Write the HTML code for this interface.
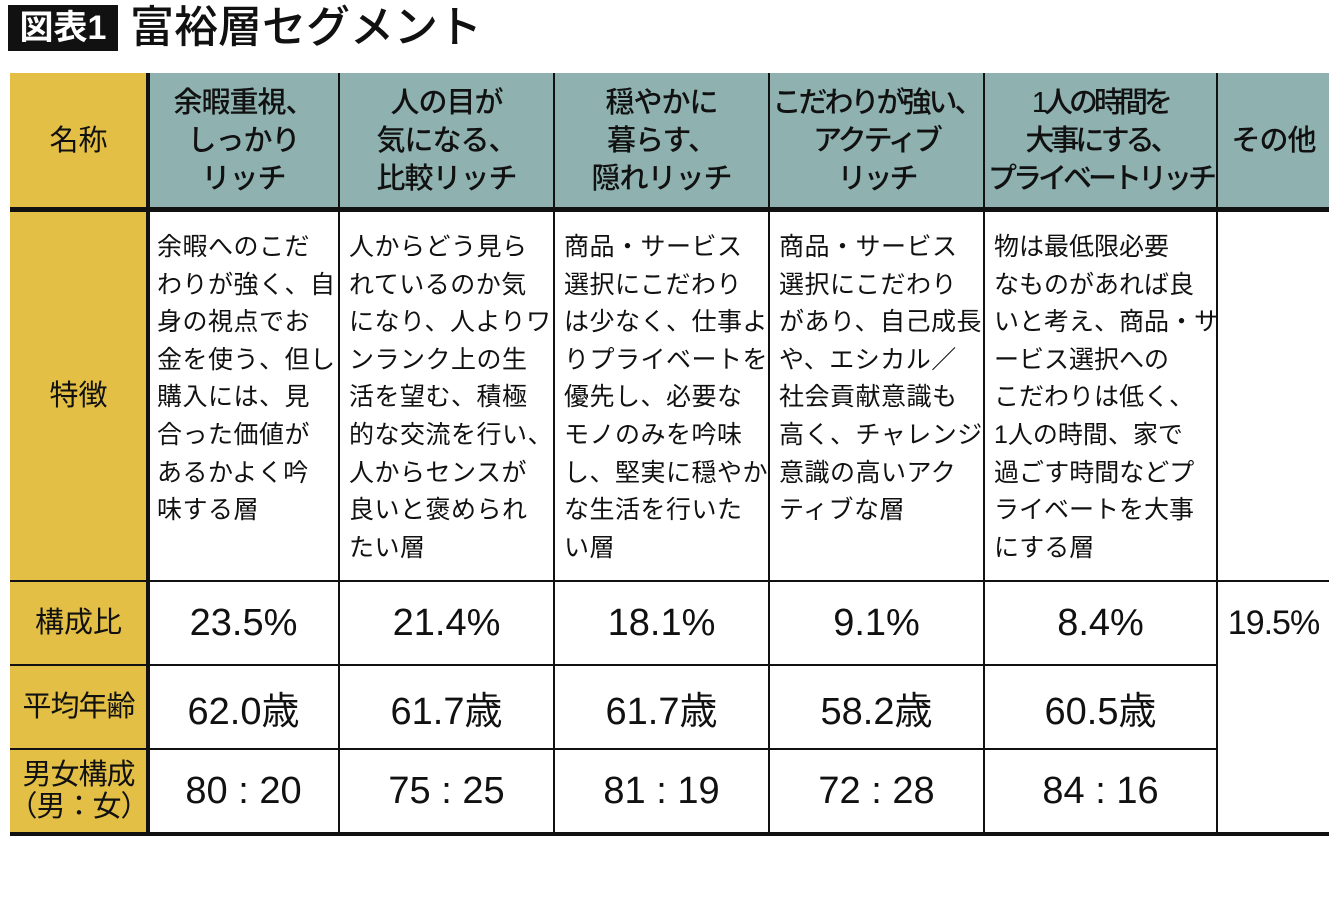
<!DOCTYPE html>
<html><head><meta charset="utf-8"><style>
body{margin:0;width:1340px;height:904px;background:#fff;position:relative;overflow:hidden;font-family:"Liberation Sans","Noto Sans CJK JP",sans-serif;color:#111}
.a{position:absolute}
.hd{background:#8fb2b0}
.yl{background:#e3bf45}
.hl{position:absolute;background:#111}
.cell{position:absolute;display:flex;align-items:center;justify-content:center;text-align:center;white-space:nowrap}
.h{font-size:29px;line-height:38px;font-weight:500;letter-spacing:-1px}
.v{font-size:38px}
.lab{font-size:29px;line-height:32px}
.body{position:absolute;font-size:25px;line-height:37.6px;letter-spacing:0.5px;white-space:pre}
</style></head><body>
<div class="a" style="left:8px;top:5px;width:110px;height:46px;background:#111;color:#fff;font-size:34px;font-weight:bold;line-height:46px;text-align:center">図表1</div>
<div class="a" style="left:130px;top:0px;font-size:44px;line-height:56px;font-weight:500">富裕層セグメント</div>

<div class="a yl" style="left:10px;top:73px;width:137px;height:761px"></div>
<div class="a hd" style="left:149px;top:73px;width:1180px;height:135px"></div>

<div class="hl" style="left:146px;top:73px;width:4px;height:763px"></div>
<div class="hl" style="left:10px;top:207px;width:1319px;height:5px"></div>
<div class="hl" style="left:10px;top:832px;width:1319px;height:4px"></div>
<div class="hl" style="left:10px;top:580px;width:1319px;height:2px"></div>
<div class="hl" style="left:10px;top:664px;width:1208px;height:2px"></div>
<div class="hl" style="left:10px;top:748px;width:1208px;height:2px"></div>
<div class="hl" style="left:338px;top:73px;width:2px;height:761px"></div>
<div class="hl" style="left:553px;top:73px;width:2px;height:761px"></div>
<div class="hl" style="left:768px;top:73px;width:2px;height:761px"></div>
<div class="hl" style="left:983px;top:73px;width:2px;height:761px"></div>
<div class="hl" style="left:1216px;top:73px;width:2px;height:761px"></div>

<div class="cell lab" style="left:10px;top:73px;width:137px;height:135px">名称</div>
<div class="cell lab" style="left:10px;top:212px;width:137px;height:368px">特徴</div>
<div class="cell lab" style="left:10px;top:582px;width:137px;height:82px">構成比</div>
<div class="cell lab" style="left:10px;top:666px;width:137px;height:82px;letter-spacing:-1px">平均年齢</div>
<div class="cell lab" style="left:10px;top:750px;width:137px;height:82px;letter-spacing:-1px">男女構成<br>（男：女）</div>

<div class="cell h" style="left:149px;top:73px;width:189px;height:135px">余暇重視、<br>しっかり<br>リッチ</div>
<div class="cell h" style="left:340px;top:73px;width:213px;height:135px">人の目が<br>気になる、<br>比較リッチ</div>
<div class="cell h" style="left:555px;top:73px;width:213px;height:135px">穏やかに<br>暮らす、<br>隠れリッチ</div>
<div class="cell h" style="left:770px;top:73px;width:213px;height:135px;letter-spacing:-3px">こだわりが強い、<br>アクティブ<br>リッチ</div>
<div class="cell h" style="left:985px;top:73px;width:231px;height:135px;letter-spacing:-4px">1人の時間を<br>大事にする、<br>プライベートリッチ</div>
<div class="cell h" style="left:1218px;top:73px;width:111px;height:135px">その他</div>

<div class="body" style="left:157px;top:229px">余暇へのこだ
わりが強く、自
身の視点でお
金を使う、但し
購入には、見
合った価値が
あるかよく吟
味する層</div>
<div class="body" style="left:349px;top:229px">人からどう見ら
れているのか気
になり、人よりワ
ンランク上の生
活を望む、積極
的な交流を行い、
人からセンスが
良いと褒められ
たい層</div>
<div class="body" style="left:564px;top:229px">商品・サービス
選択にこだわり
は少なく、仕事よ
りプライベートを
優先し、必要な
モノのみを吟味
し、堅実に穏やか
な生活を行いた
い層</div>
<div class="body" style="left:779px;top:229px">商品・サービス
選択にこだわり
があり、自己成長
や、エシカル／
社会貢献意識も
高く、チャレンジ
意識の高いアク
ティブな層</div>
<div class="body" style="left:994px;top:229px;letter-spacing:0">物は最低限必要
なものがあれば良
いと考え、商品・サ
ービス選択への
こだわりは低く、
1人の時間、家で
過ごす時間などプ
ライベートを大事
にする層</div>

<div class="cell v" style="left:149px;top:582px;width:189px;height:82px">23.5%</div>
<div class="cell v" style="left:340px;top:582px;width:213px;height:82px">21.4%</div>
<div class="cell v" style="left:555px;top:582px;width:213px;height:82px">18.1%</div>
<div class="cell v" style="left:770px;top:582px;width:213px;height:82px">9.1%</div>
<div class="cell v" style="left:985px;top:582px;width:231px;height:82px">8.4%</div>
<div class="cell v" style="left:1218px;top:582px;width:111px;height:82px;font-size:34px;letter-spacing:-1px">19.5%</div>

<div class="cell v" style="left:149px;top:666px;width:189px;height:82px">62.0歳</div>
<div class="cell v" style="left:340px;top:666px;width:213px;height:82px">61.7歳</div>
<div class="cell v" style="left:555px;top:666px;width:213px;height:82px">61.7歳</div>
<div class="cell v" style="left:770px;top:666px;width:213px;height:82px">58.2歳</div>
<div class="cell v" style="left:985px;top:666px;width:231px;height:82px">60.5歳</div>

<div class="cell v" style="left:149px;top:750px;width:189px;height:82px">80 : 20</div>
<div class="cell v" style="left:340px;top:750px;width:213px;height:82px">75 : 25</div>
<div class="cell v" style="left:555px;top:750px;width:213px;height:82px">81 : 19</div>
<div class="cell v" style="left:770px;top:750px;width:213px;height:82px">72 : 28</div>
<div class="cell v" style="left:985px;top:750px;width:231px;height:82px">84 : 16</div>
</body></html>
